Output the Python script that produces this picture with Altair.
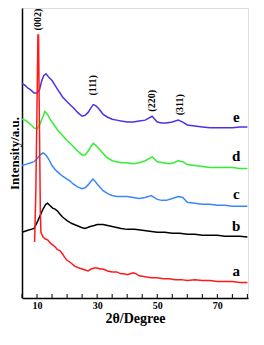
import altair as alt
import pandas as pd

FONT = "Liberation Serif"

# 2theta positions (degree) and intensities (a.u., arbitrary offsets as read)
a_x = [9.2, 9.6, 10.0, 10.3, 10.5, 10.8, 11.1, 11.3, 12.0, 12.8, 13.6, 14.4, 15.2, 16.0, 16.8, 17.6, 18.4, 19.2, 20.0, 21.0, 22.5, 24.0, 25.0, 26.0, 27.0, 28.0, 29.0, 30.0, 31.0, 32.0, 33.5, 35.0, 36.5, 38.0, 39.0, 40.0, 41.0, 42.0, 43.0, 44.0, 46.0, 48.0, 50.0, 52.0, 54.0, 56.0, 58.0, 60.0, 62.5, 65.0, 67.5, 70.0, 72.5, 75.0, 77.5, 80.0]
a_y = [58, 110, 200, 272, 272, 180, 90, 68, 63, 61, 60, 57, 55, 53, 50, 49, 46, 42, 39, 37, 33, 31, 30, 29, 28, 30, 31, 31, 30, 30, 28, 27, 27, 25, 25, 24, 25, 26, 25, 23, 22, 21, 21, 20, 20, 19, 19, 18, 19, 18, 18, 17, 17, 17, 16, 16]

b_x = [5.0, 6.0, 7.0, 8.0, 9.0, 9.7, 10.3, 11.0, 12.0, 12.9, 13.5, 14.2, 15.2, 16.0, 16.8, 17.6, 18.4, 19.2, 20.0, 21.6, 23.2, 24.8, 26.0, 27.7, 29.0, 30.0, 31.0, 32.0, 33.5, 35.0, 36.5, 38.0, 40.0, 42.5, 45.0, 47.5, 50.0, 52.5, 55.0, 57.5, 60.0, 62.5, 65.0, 67.5, 70.0, 72.5, 75.0, 77.5, 80.0]
b_y = [68, 69, 70, 71, 72, 76, 80, 85, 92, 97, 98, 96, 93, 92, 90, 87, 84, 82, 80, 77, 75, 73, 72, 74, 75, 76, 76, 76, 75, 74, 73, 72, 71, 71, 70, 69, 68, 68, 67, 67, 66, 66, 65, 65, 65, 64, 64, 64, 63]

c_x = [5.0, 6.0, 7.0, 8.0, 9.0, 10.0, 11.0, 12.0, 12.5, 13.2, 14.0, 15.0, 16.0, 17.0, 18.5, 20.0, 21.0, 22.0, 23.5, 25.0, 26.0, 27.0, 28.0, 28.6, 29.5, 30.5, 32.0, 33.5, 35.0, 36.5, 38.0, 40.0, 42.0, 44.0, 46.0, 48.0, 50.0, 51.5, 53.0, 55.0, 57.0, 58.5, 60.0, 62.5, 65.0, 67.5, 70.0, 72.5, 75.0, 77.5, 80.0]
c_y = [137, 138, 139, 140, 141, 144, 148, 150, 149, 147, 143, 137, 133, 130, 126, 123, 121, 118, 115, 113, 114, 117, 121, 123, 120, 116, 111, 108, 106, 105, 105, 105, 104, 103, 104, 106, 102, 101, 101, 103, 105, 104, 99, 98, 97, 97, 96, 96, 95, 95, 95]

d_x = [5.0, 6.0, 7.0, 8.0, 9.0, 10.0, 11.0, 12.0, 12.6, 13.5, 14.5, 15.5, 17.0, 18.5, 20.0, 21.0, 22.0, 23.5, 25.0, 26.0, 27.0, 28.0, 28.7, 29.5, 31.0, 33.0, 35.0, 36.5, 38.0, 40.0, 42.0, 44.0, 46.0, 48.3, 50.0, 52.0, 54.0, 55.5, 57.0, 58.5, 60.0, 62.5, 65.0, 67.5, 70.0, 72.5, 75.0, 77.5, 80.0]
d_y = [185, 184, 182, 179, 176, 175, 180, 188, 193, 190, 184, 180, 173, 168, 163, 160, 157, 152, 148, 148, 152, 157, 160, 158, 153, 146, 142, 141, 140, 140, 139, 140, 142, 146, 141, 140, 139, 140, 142, 141, 138, 137, 136, 135, 135, 135, 135, 134, 134]

e_x = [5.0, 6.0, 7.0, 8.0, 9.0, 10.0, 10.8, 11.5, 12.2, 13.0, 14.0, 15.0, 16.0, 17.0, 18.5, 20.0, 21.0, 22.0, 23.5, 25.0, 26.0, 27.0, 28.0, 28.7, 29.5, 30.5, 32.0, 33.5, 35.0, 36.5, 38.0, 40.0, 42.0, 44.0, 46.0, 48.3, 50.0, 51.5, 53.0, 55.0, 57.0, 58.5, 60.0, 62.5, 65.0, 67.5, 70.0, 72.5, 75.0, 77.5, 80.0]
e_y = [222, 220, 217, 215, 212, 212, 215, 224, 230, 232, 228, 225, 220, 215, 208, 203, 200, 197, 192, 188, 189, 192, 197, 200, 199, 196, 190, 187, 185, 184, 183, 182, 182, 183, 184, 188, 182, 181, 181, 182, 184, 182, 179, 178, 177, 176, 176, 176, 176, 177, 177]

series = [
    ("e", e_x, e_y, "#4b33e6"),
    ("d", d_x, d_y, "#33ee33"),
    ("c", c_x, c_y, "#3a86ff"),
    ("b", b_x, b_y, "#000000"),
    ("a", a_x, a_y, "#ff1a1a"),
]

peak_labels = ["(002)", "(111)", "(220)", "(311)"]
peak_x = [10.4, 28.7, 48.3, 57.6]
peak_y = [288, 220, 204, 200]

curve_letters = ["e", "d", "c", "b", "a"]
letter_x = [76.3, 76.3, 76.3, 76.3, 76.3]
letter_y = [187, 147, 108, 75, 28]

tick_values = [5, 10, 15, 20, 25, 30, 35, 40, 45, 50, 55, 60, 65, 70, 75, 80]
label_values = [10, 20, 30, 40, 50, 60, 70, 80]

W, H = 226, 290
xscale = alt.Scale(domain=[5, 80.2], nice=False, zero=False)
yscale = alt.Scale(domain=[0, 300], nice=False)

x_enc = alt.X(
    "x:Q", scale=xscale,
    axis=alt.Axis(values=label_values, tickSize=0, grid=False, title="2θ/Degree",
                  labelFont=FONT, labelFontWeight="bold", labelFontSize=10, labelColor="#000",
                  labelFlush=False, labelOverlap=False, labelBound=False,
                  titleFont=FONT, titleFontWeight="bold", titleFontSize=14, titleColor="#000",
                  domainColor="#000", domainWidth=1.5, labelPadding=2, titlePadding=1),
)
y_enc = alt.Y(
    "y:Q", scale=yscale,
    axis=alt.Axis(labels=False, ticks=False, grid=False, title="Intensity/a.u.",
                  titleFont=FONT, titleFontWeight="bold", titleFontSize=13, titleColor="#000",
                  domainColor="#000", domainWidth=1.5, titlePadding=1),
)

layers = []
for name, xs, ys, col in series:
    df = pd.DataFrame({"x": xs, "y": ys, "i": range(len(xs))})
    layers.append(
        alt.Chart(df).mark_line(color=col, strokeWidth=1.5).encode(
            x=x_enc, y=y_enc, order="i:Q"
        )
    )

ticks_df = pd.DataFrame({"x": tick_values})
ticks = alt.Chart(ticks_df).mark_rule(color="#000", strokeWidth=1).encode(
    x=alt.X("x:Q", scale=xscale), y=alt.value(H), y2=alt.value(H - 4)
)

peaks_df = pd.DataFrame({"x": peak_x, "y": peak_y, "t": peak_labels})
peaks = alt.Chart(peaks_df).mark_text(
    angle=270, font=FONT, fontWeight="bold", fontSize=10, color="#000"
).encode(x=alt.X("x:Q", scale=xscale), y=alt.Y("y:Q", scale=yscale), text="t:N")

letters_df = pd.DataFrame({"x": letter_x, "y": letter_y, "t": curve_letters})
letters = alt.Chart(letters_df).mark_text(
    font=FONT, fontWeight="bold", fontSize=15, color="#000"
).encode(x=alt.X("x:Q", scale=xscale), y=alt.Y("y:Q", scale=yscale), text="t:N")

chart = alt.layer(*layers, ticks, peaks, letters).properties(
    width=W, height=H,
    autosize=alt.AutoSizeParams(type="none"),
    padding={"left": 14, "top": 0, "right": 6, "bottom": 30},
).configure_view(stroke="#000", strokeWidth=1.5).configure(background="white")

chart.save("out.html", embed_options={"renderer": "svg", "actions": False})
